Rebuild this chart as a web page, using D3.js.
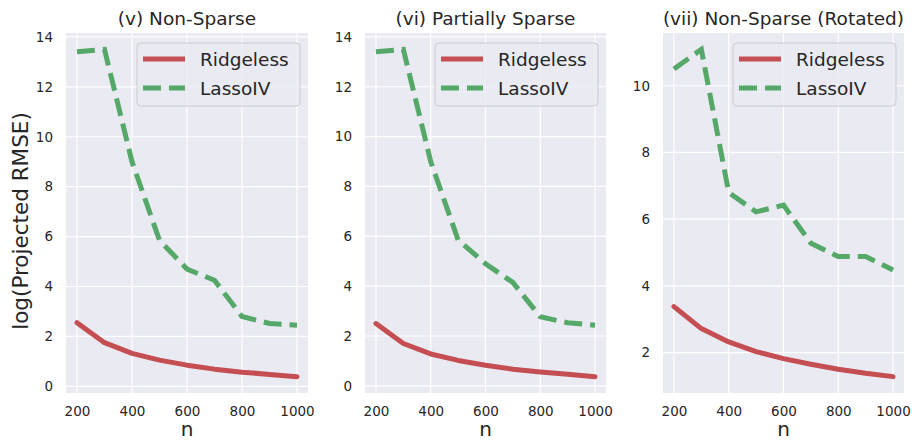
<!DOCTYPE html>
<html>
<head>
<meta charset="utf-8">
<script src="https://cdn.jsdelivr.net/npm/d3@7"></script>
<style>
    body { margin: 0; background: #fff; }
    svg text { font-family: "DejaVu Sans", sans-serif; fill: #262626; }
</style>
</head>
<body>
<div id="chart"></div>
<script>
// three small panels, seaborn darkgrid look

const nValues = [200, 300, 400, 500, 600, 700, 800, 900, 1000];
const xTicks = [200, 400, 600, 800, 1000];

const ridgeNonSparse = [2.55, 1.75, 1.32, 1.05, 0.85, 0.69, 0.57, 0.48, 0.39];
const lassoNonSparse = [13.4, 13.5, 9.0, 5.85, 4.7, 4.25, 2.8, 2.52, 2.45];

const ridgePartial = [2.5, 1.7, 1.28, 1.02, 0.83, 0.67, 0.56, 0.47, 0.37];
const lassoPartial = [13.4, 13.5, 9.0, 5.85, 4.9, 4.15, 2.77, 2.53, 2.43];

const ridgeRotated = [3.38, 2.72, 2.32, 2.03, 1.82, 1.65, 1.5, 1.38, 1.28];
const lassoRotated = [10.5, 11.09, 6.8, 6.22, 6.42, 5.28, 4.88, 4.88, 4.48];

const panelTitles = ["(v) Non-Sparse", "(vi) Partially Sparse", "(vii) Non-Sparse (Rotated)"];
const yTicksFull = [0, 2, 4, 6, 8, 10, 12, 14];
const yTicksRotated = [2, 4, 6, 8, 10];
const seriesNames = ["Ridgeless", "LassoIV"];

const COLOURS = {
    BG: "#eaeaf2",
    GRID: "#ffffff",
    RIDGE: "#c44e52",
    LASSO: "#55a868",
    TEXT: "#262626"
};

const panels = [
    {title: panelTitles[0], ridge: ridgeNonSparse, lasso: lassoNonSparse, ticks: yTicksFull, left: 66, right: 308},
    {title: panelTitles[1], ridge: ridgePartial, lasso: lassoPartial, ticks: yTicksFull, left: 365, right: 606},
    {title: panelTitles[2], ridge: ridgeRotated, lasso: lassoRotated, ticks: yTicksRotated, left: 663, right: 904}
];
const plotTop = 33, plotBottom = 393;

const svg = d3.select("#chart").append("svg")
    .attr("width", 912)
    .attr("height", 440);

// matplotlib style 5% padding around the data
function padded(extent) {
    const pad = (extent[1] - extent[0]) * 0.05;
    return [extent[0] - pad, extent[1] + pad];
}

function drawPanel(p) {
    const x = d3.scaleLinear()
        .domain(padded(d3.extent(nValues)))
        .range([p.left, p.right]);
    const y = d3.scaleLinear()
        .domain(padded(d3.extent(p.ridge.concat(p.lasso))))
        .range([plotBottom, plotTop]);

    const g = svg.append("g");

    g.append("rect")
        .attr("x", p.left)
        .attr("y", plotTop)
        .attr("width", p.right - p.left)
        .attr("height", plotBottom - plotTop)
        .attr("fill", COLOURS.BG);

    // grid lines
    g.selectAll(".vgrid")
        .data(xTicks)
        .enter().append("line")
        .attr("x1", d => x(d)).attr("x2", d => x(d))
        .attr("y1", plotTop).attr("y2", plotBottom)
        .attr("stroke", COLOURS.GRID)
        .attr("stroke-width", 1.2);

    g.selectAll(".hgrid")
        .data(p.ticks)
        .enter().append("line")
        .attr("x1", p.left).attr("x2", p.right)
        .attr("y1", d => y(d)).attr("y2", d => y(d))
        .attr("stroke", COLOURS.GRID)
        .attr("stroke-width", 1.2);

    // axes (no spines, no tick marks)
    const xAxis = g.append("g")
        .attr("transform", `translate(0,${plotBottom})`)
        .call(d3.axisBottom(x).tickValues(xTicks).tickFormat(d3.format("d")).tickSize(0).tickPadding(13));
    xAxis.select(".domain").remove();
    xAxis.selectAll("text")
        .style("font-size", "13.5px")
        .style("font-family", "DejaVu Sans")
        .attr("fill", COLOURS.TEXT);

    const yAxis = g.append("g")
        .attr("transform", `translate(${p.left},0)`)
        .call(d3.axisLeft(y).tickValues(p.ticks).tickFormat(d3.format("d")).tickSize(0).tickPadding(13));
    yAxis.select(".domain").remove();
    yAxis.selectAll("text")
        .style("font-size", "13.5px")
        .style("font-family", "DejaVu Sans")
        .attr("fill", COLOURS.TEXT);

    // lines
    const line = d3.line()
        .x((d, i) => x(nValues[i]))
        .y(d => y(d));

    g.append("path")
        .datum(p.lasso)
        .attr("fill", "none")
        .attr("stroke", COLOURS.LASSO)
        .attr("stroke-width", 5)
        .attr("stroke-dasharray", "18,8")
        .attr("d", line);

    g.append("path")
        .datum(p.ridge)
        .attr("fill", "none")
        .attr("stroke", COLOURS.RIDGE)
        .attr("stroke-width", 5)
        .attr("stroke-linecap", "round")
        .attr("stroke-linejoin", "round")
        .attr("d", line);

    // title
    g.append("text")
        .attr("x", (p.left + p.right) / 2)
        .attr("y", 25)
        .attr("text-anchor", "middle")
        .style("font-size", "18.5px")
        .text(p.title);

    // x label
    g.append("text")
        .attr("x", (p.left + p.right) / 2)
        .attr("y", 436)
        .attr("text-anchor", "middle")
        .style("font-size", "20px")
        .text("n");

    // legend
    const legW = 163, legH = 63;
    const lx = p.right - 8 - legW, ly = plotTop + 10;
    const leg = g.append("g").attr("transform", `translate(${lx},${ly})`);
    leg.append("rect")
        .attr("width", legW)
        .attr("height", legH)
        .attr("rx", 4)
        .attr("fill", COLOURS.BG)
        .attr("fill-opacity", 0.8)
        .attr("stroke", "#cccccc")
        .attr("stroke-width", 1);

    const items = [
        {name: seriesNames[0], colour: COLOURS.RIDGE, dash: null},
        {name: seriesNames[1], colour: COLOURS.LASSO, dash: "18,8"}
    ];
    items.forEach((it, i) => {
        const yy = 16 + i * 29;
        leg.append("line")
            .attr("x1", 6).attr("x2", 48)
            .attr("y1", yy).attr("y2", yy)
            .attr("stroke", it.colour)
            .attr("stroke-width", 5)
            .attr("stroke-dasharray", it.dash);
        leg.append("text")
            .attr("x", 63)
            .attr("y", yy)
            .attr("dy", "0.36em")
            .style("font-size", "18.5px")
            .text(it.name);
    });
}

panels.forEach(drawPanel);

// shared y label
svg.append("text")
    .attr("transform", "translate(28,221) rotate(-90)")
    .attr("text-anchor", "middle")
    .style("font-size", "21.5px")
    .text("log(Projected RMSE)");
</script>
</body>
</html>
